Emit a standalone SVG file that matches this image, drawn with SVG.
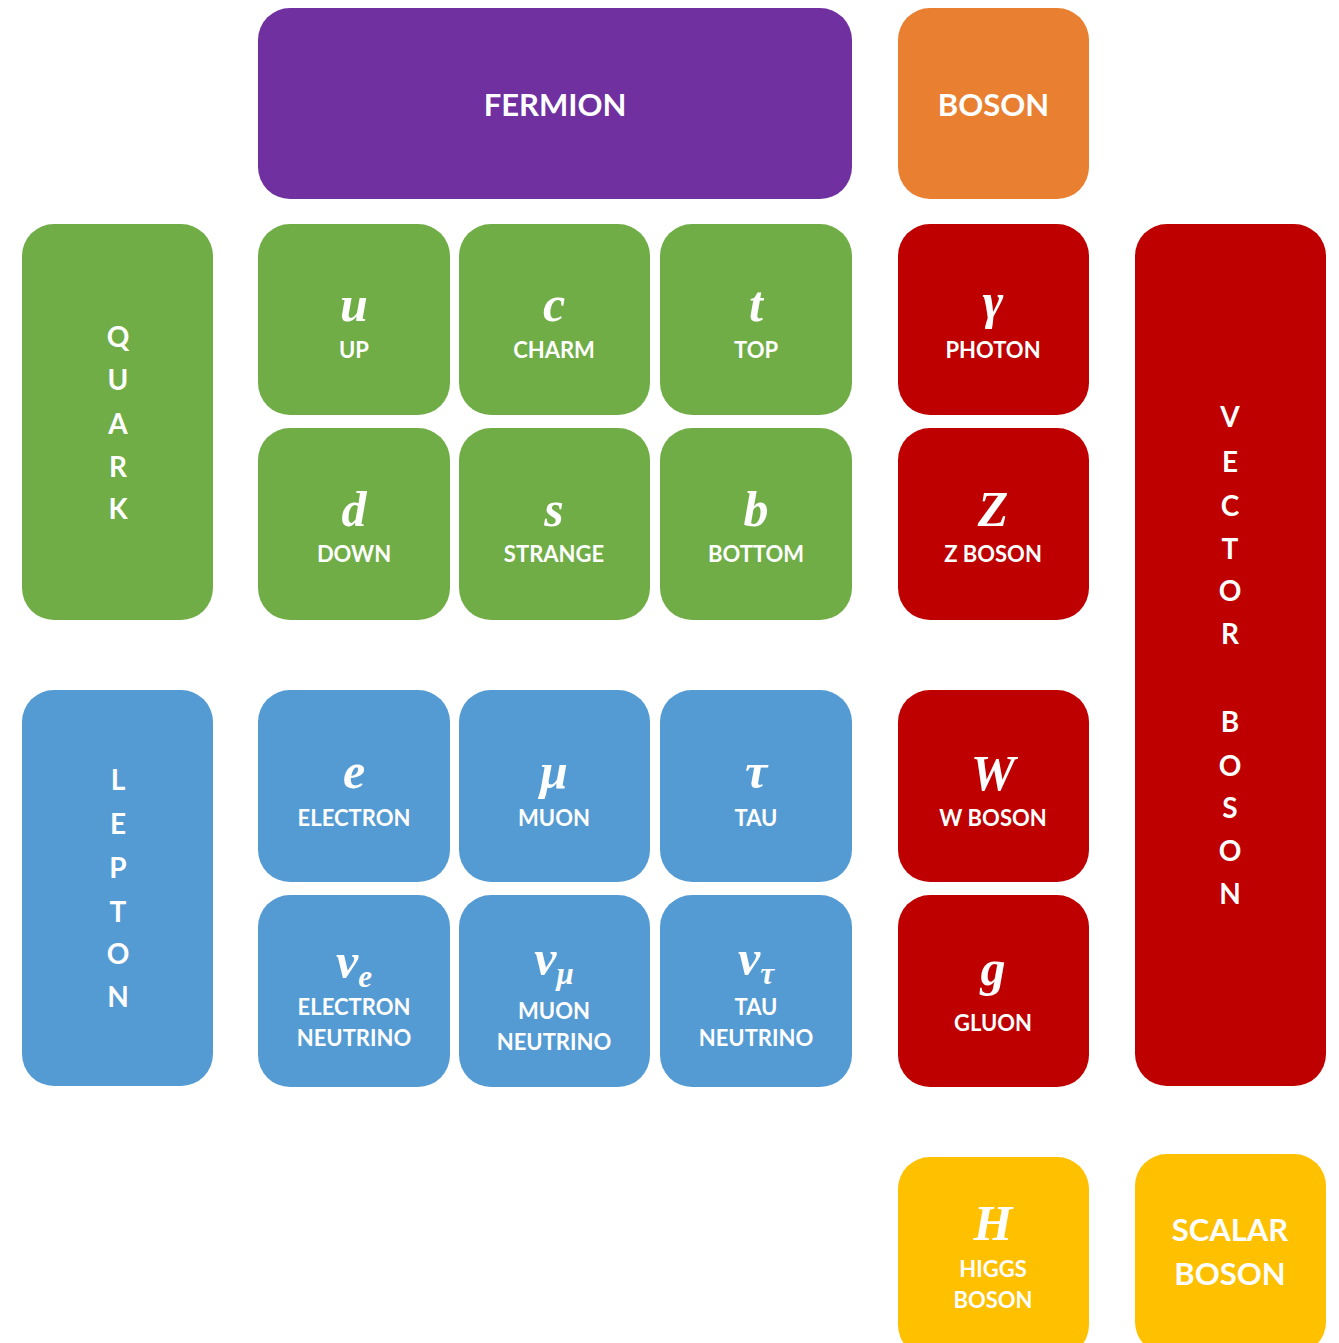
<svg xmlns="http://www.w3.org/2000/svg" width="1339" height="1343" viewBox="0 0 1339 1343">
<style>
.b{stroke:none}
.fer{fill:#7030A0}.bos{fill:#E97F31}.q{fill:#70AD47}.l{fill:#559BD3}.v{fill:#BE0000}.s{fill:#FFC000}
text{fill:#ffffff;text-anchor:middle}
.lab{font-family:"Lato","Open Sans","Liberation Sans",sans-serif;font-weight:bold;font-size:22px}
.big{font-family:"Lato","Open Sans","Liberation Sans",sans-serif;font-weight:bold;font-size:31px}
.vert{font-family:"Lato","Open Sans","Liberation Sans",sans-serif;font-weight:bold;font-size:28px}
.sym{font-family:"Liberation Serif","DejaVu Serif",serif;font-style:italic;font-weight:bold;font-size:50px}
.sub{font-size:31px}
</style>
<rect width="1339" height="1343" fill="#ffffff"/>
<g id="connectors"></g>
<g id="fermion"><rect class="b fer" x="258" y="8" width="594" height="191" rx="32"/><text class="big" x="555" y="116">FERMION</text></g>
<g id="boson"><rect class="b bos" x="898" y="8" width="191" height="191" rx="32"/><text class="big" x="993.5" y="116">BOSON</text></g>
<g id="quark"><rect class="b q" x="22" y="224" width="191" height="396" rx="32"/>
<text class="vert"><tspan x="118" y="347">Q</tspan><tspan x="118" y="390">U</tspan><tspan x="118" y="434">A</tspan><tspan x="118" y="477">R</tspan><tspan x="118" y="519">K</tspan></text></g>
<g id="lepton"><rect class="b l" x="22" y="690" width="191" height="396" rx="32"/>
<text class="vert"><tspan x="118" y="790">L</tspan><tspan x="118" y="834">E</tspan><tspan x="118" y="878">P</tspan><tspan x="118" y="922">T</tspan><tspan x="118" y="964">O</tspan><tspan x="118" y="1007">N</tspan></text></g>
<g id="vector-boson"><rect class="b v" x="1135" y="224" width="191" height="862" rx="32"/>
<text class="vert"><tspan x="1230" y="427">V</tspan><tspan x="1230" y="472">E</tspan><tspan x="1230" y="516">C</tspan><tspan x="1230" y="559">T</tspan><tspan x="1230" y="601">O</tspan><tspan x="1230" y="644">R</tspan><tspan x="1230" y="732">B</tspan><tspan x="1230" y="776">O</tspan><tspan x="1230" y="818">S</tspan><tspan x="1230" y="861">O</tspan><tspan x="1230" y="904">N</tspan></text></g>
<g id="up"><rect class="b q" x="258" y="224" width="192" height="191" rx="32"/><text class="sym" x="354" y="321">u</text><text class="lab" x="354" y="358">UP</text></g>
<g id="charm"><rect class="b q" x="459" y="224" width="191" height="191" rx="32"/><text class="sym" x="554" y="321">c</text><text class="lab" x="554" y="358">CHARM</text></g>
<g id="top"><rect class="b q" x="660" y="224" width="192" height="191" rx="32"/><text class="sym" x="756" y="321">t</text><text class="lab" x="756" y="358">TOP</text></g>
<g id="down"><rect class="b q" x="258" y="428" width="192" height="192" rx="32"/><text class="sym" x="354" y="526">d</text><text class="lab" x="354" y="562">DOWN</text></g>
<g id="strange"><rect class="b q" x="459" y="428" width="191" height="192" rx="32"/><text class="sym" x="554" y="526">s</text><text class="lab" x="554" y="562">STRANGE</text></g>
<g id="bottom"><rect class="b q" x="660" y="428" width="192" height="192" rx="32"/><text class="sym" x="756" y="526">b</text><text class="lab" x="756" y="562">BOTTOM</text></g>
<g id="electron"><rect class="b l" x="258" y="690" width="192" height="192" rx="32"/><text class="sym" x="354" y="788">e</text><text class="lab" x="354" y="826">ELECTRON</text></g>
<g id="muon"><rect class="b l" x="459" y="690" width="191" height="192" rx="32"/><text class="sym" x="554" y="788">μ</text><text class="lab" x="554" y="826">MUON</text></g>
<g id="tau"><rect class="b l" x="660" y="690" width="192" height="192" rx="32"/><text class="sym" x="756" y="788">τ</text><text class="lab" x="756" y="826">TAU</text></g>
<g id="electron-neutrino"><rect class="b l" x="258" y="895" width="192" height="192" rx="32"/><text class="sym" x="354" y="978">ν<tspan class="sub" dy="9">e</tspan></text><text class="lab" x="354" y="1015">ELECTRON</text><text class="lab" x="354" y="1046">NEUTRINO</text></g>
<g id="muon-neutrino"><rect class="b l" x="459" y="895" width="191" height="192" rx="32"/><text class="sym" x="554" y="975">ν<tspan class="sub" dy="9">μ</tspan></text><text class="lab" x="554" y="1019">MUON</text><text class="lab" x="554" y="1050">NEUTRINO</text></g>
<g id="tau-neutrino"><rect class="b l" x="660" y="895" width="192" height="192" rx="32"/><text class="sym" x="756" y="975">ν<tspan class="sub" dy="9">τ</tspan></text><text class="lab" x="756" y="1015">TAU</text><text class="lab" x="756" y="1046">NEUTRINO</text></g>
<g id="photon"><rect class="b v" x="898" y="224" width="191" height="191" rx="32"/><text class="sym" x="993" y="318">γ</text><text class="lab" x="993" y="358">PHOTON</text></g>
<g id="z-boson"><rect class="b v" x="898" y="428" width="191" height="192" rx="32"/><text class="sym" x="993" y="526">Z</text><text class="lab" x="993" y="562">Z BOSON</text></g>
<g id="w-boson"><rect class="b v" x="898" y="690" width="191" height="192" rx="32"/><text class="sym" x="993" y="790">W</text><text class="lab" x="993" y="826">W BOSON</text></g>
<g id="gluon"><rect class="b v" x="898" y="895" width="191" height="192" rx="32"/><text class="sym" x="993" y="985">g</text><text class="lab" x="993" y="1031">GLUON</text></g>
<g id="higgs"><rect class="b s" x="898" y="1157" width="191" height="200" rx="32"/><text class="sym" x="993" y="1240">H</text><text class="lab" x="993" y="1277">HIGGS</text><text class="lab" x="993" y="1308">BOSON</text></g>
<g id="scalar-boson"><rect class="b s" x="1135" y="1154" width="191" height="200" rx="32"/><text class="big" x="1230" y="1241">SCALAR</text><text class="big" x="1230" y="1285">BOSON</text></g>
</svg>
